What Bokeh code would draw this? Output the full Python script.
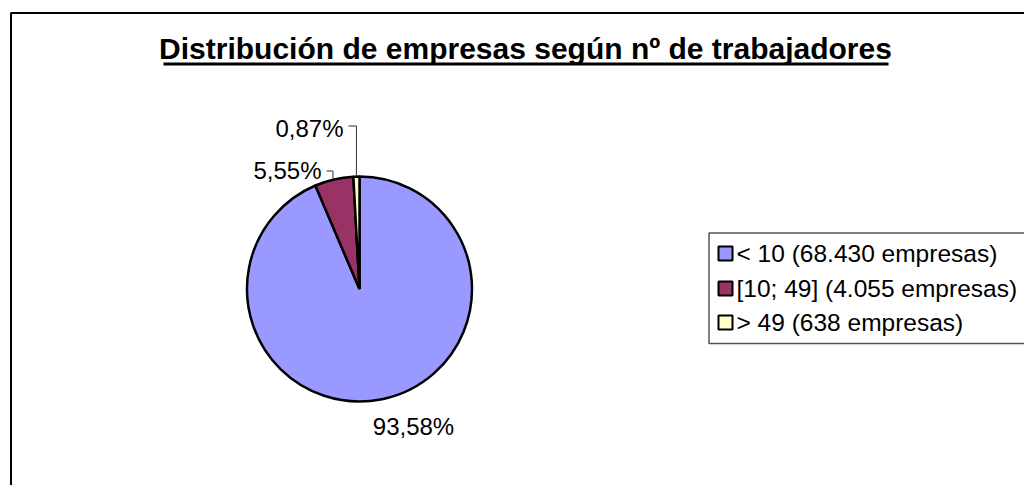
import numpy as np
from bokeh.plotting import figure
from bokeh.models import Range1d
from bokeh.core.properties import value
from bokeh.embed import file_html
from bokeh.resources import INLINE

# ---- data ----
categories = ["< 10", "[10; 49]", "> 49"]
counts = [68430, 4055, 638]
colors = ["#9999FF", "#993366", "#FFFFCC"]
legend_labels = ["< 10 (68.430 empresas)", "[10; 49] (4.055 empresas)", "> 49 (638 empresas)"]
title_text = "Distribución de empresas según nº de trabajadores"

W, H = 1024, 485
FONT = "Liberation Sans"

p = figure(width=W, height=H, output_backend="svg", toolbar_location=None,
           x_range=Range1d(0, W), y_range=Range1d(H, 0),
           min_border=0, outline_line_color=None)
p.axis.visible = False
p.grid.visible = False

# outer chart border (extends past the right/bottom of the window)
p.line([10.5, 10.5, 1100], [600, 12.5, 12.5], line_color="black", line_width=2)

# title
p.text(x=[525], y=[48], text=[title_text], text_font=value(FONT), text_font_style="bold",
       text_font_size="30px", text_align="center", text_baseline="middle", text_color="black")
p.line([163, 888], [63.5, 63.5], line_color="black", line_width=3)

# pie: clockwise from 12 o'clock
total = float(sum(counts))
fracs = np.array(counts) / total
cx, cy, r = 359.0, 288.5, 112.5
cum = np.concatenate([[0], np.cumsum(fracs)])
start = np.deg2rad(90 - cum[:-1] * 360)
end = np.deg2rad(90 - cum[1:] * 360)
p.wedge(x=cx, y=cy, radius=r, start_angle=start, end_angle=end,
        fill_color=colors, line_color="black", line_width=2.5, direction="clock")

# labels
pct = ["{:.2f}%".format(f * 100).replace(".", ",") for f in fracs]
mid = (start + end) / 2
ex = cx + r * np.cos(mid)
ey = cy - r * np.sin(mid)

LS = "24px"
p.text(x=[413], y=[426], text=[pct[0]], text_font=value(FONT), text_font_size=LS,
       text_align="center", text_baseline="middle", text_color="black")
p.text(x=[321], y=[170], text=[pct[1]], text_font=value(FONT), text_font_size=LS,
       text_align="right", text_baseline="middle", text_color="black")
p.line([326, ex[1] - 1, ex[1] - 1], [170.5, 170.5, ey[1]], line_color="#333333", line_width=1)
p.text(x=[343], y=[128], text=[pct[2]], text_font=value(FONT), text_font_size=LS,
       text_align="right", text_baseline="middle", text_color="black")
p.line([348, ex[2], ex[2]], [125.5, 125.5, ey[2]], line_color="#333333", line_width=1)

# legend box
p.line([1100, 708.5, 708.5, 1100], [232.5, 232.5, 343, 343], line_color="#555555", line_width=1.5)
ly = [253, 288, 322]
p.rect(x=[725] * 3, y=ly, width=14, height=14, fill_color=colors, line_color="black", line_width=2)
p.text(x=[736] * 3, y=ly, text=legend_labels, text_font=value(FONT), text_font_size="24.5px",
       text_align="left", text_baseline="middle", text_color="black")

open("out.html", "w").write(file_html(p, INLINE))
